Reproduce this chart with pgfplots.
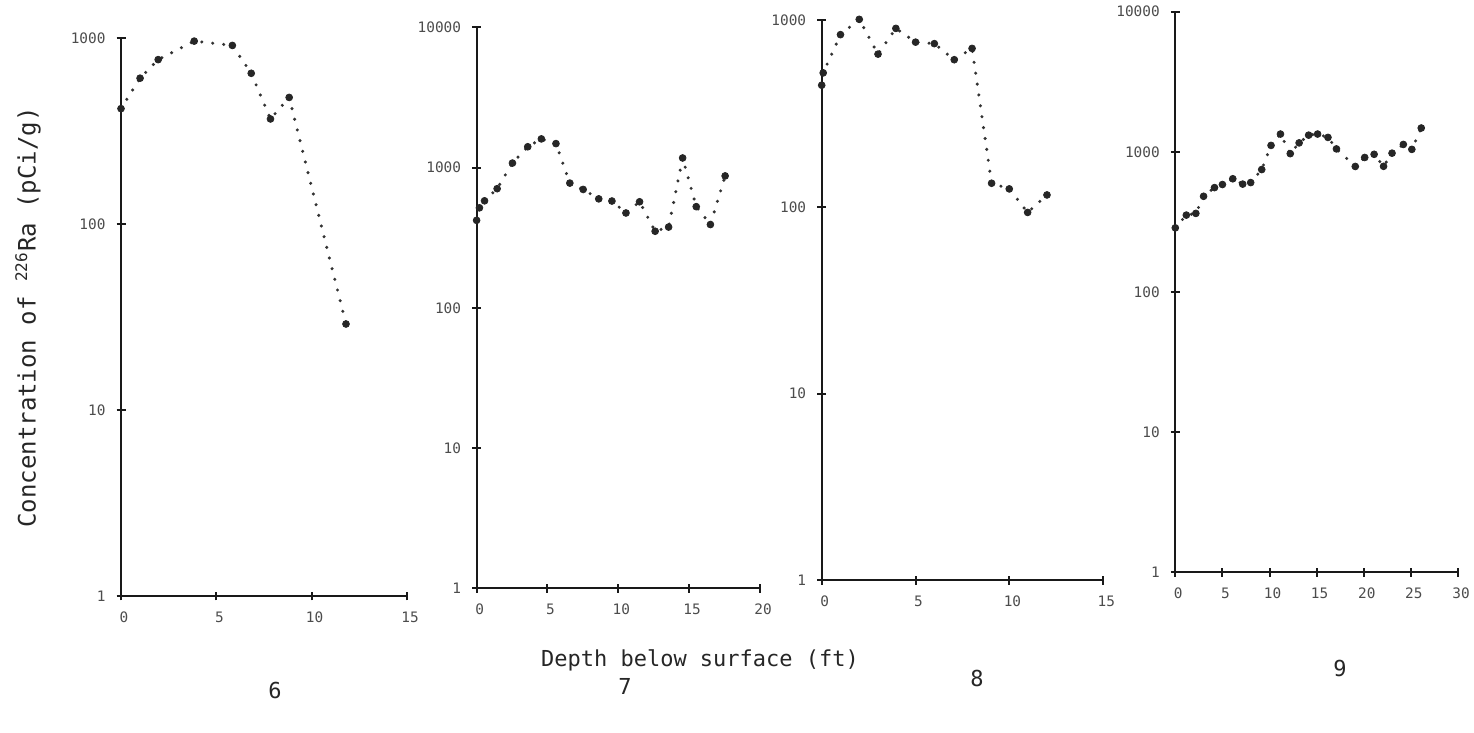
\documentclass[border=0pt]{standalone}
\usepackage{fontspec}
\setmainfont{DejaVu Sans Mono}
\usepackage{pgfplots}
\pgfplotsset{compat=1.18}

\pgfplotsset{
  myraxis/.style={
    scale only axis,
    anchor=south west,
    axis lines=left,
    axis line style={-, line width=1pt, black!90},
    ymin=1,
    tick align=center,
    major tick length=4.5pt,
    tick style={line width=1pt, black!90},
    tick label style={font=\fontsize{7.2}{8}\selectfont, text=black!70},
    yticklabel style={xshift=-2pt},
    xticklabel style={yshift=-2pt, xshift=1.5pt},
    clip=false,
    enlargelimits=false,
  },
  myrline/.style={black!80, line width=1.7pt, line cap=round,
    dash pattern=on 0pt off 5.5pt,
    mark=*, mark size=1.7pt,
    mark options={solid, line width=0.4pt, fill=black!85, draw=black!85}},
}

\begin{document}
\begin{tikzpicture}
\path[use as bounding box] (0,0) rectangle (737pt,366.5pt);

% Panel 6
\begin{axis}[ymode=log, yminorticks=false, myraxis, at={(60.5pt,68.5pt)}, width=143pt, height=279pt,
  xmin=0, xmax=15, xtick={0,5,10,15}, xticklabels={0,5,10,15},
  ymax=1000, ytick={1,10,100,1000}, yticklabels={1,10,100,1000}]
\addplot[myrline] coordinates {
 (0,417) (1.0,608) (1.95,765) (3.84,962) (5.84,912) (6.83,646)
 (7.84,367) (8.82,479) (11.8,29)
};
\end{axis}

% Panel 7
\begin{axis}[ymode=log, yminorticks=false, myraxis, at={(238.3pt,72.3pt)}, width=141.7pt, height=280.5pt,
  xmin=0, xmax=20, xtick={0,5,10,15,20}, xticklabels={0,5,10,15,20},
  ymax=10000, ytick={1,10,100,1000,10000}, yticklabels={1,10,100,1000,10000}]
\addplot[myrline] coordinates {
 (0,421) (0.2,517) (0.56,580) (1.45,708) (2.53,1078) (3.61,1409)
 (4.57,1603) (5.6,1484) (6.58,776) (7.52,699) (8.62,599) (9.55,578)
 (10.54,475) (11.5,571) (12.6,352) (13.55,377) (14.54,1172) (15.5,527)
 (16.5,393) (17.54,873)
};
\end{axis}

% Panel 8
\begin{axis}[ymode=log, yminorticks=false, myraxis, at={(410.85pt,76.35pt)}, width=140.8pt, height=280pt,
  xmin=0, xmax=15, xtick={0,5,10,15}, xticklabels={0,5,10,15},
  ymax=1000, ytick={1,10,100,1000}, yticklabels={1,10,100,1000}]
\addplot[myrline] coordinates {
 (0,449) (0.08,523) (1.0,838) (2.0,1012) (3.0,659) (3.95,905)
 (5.0,764) (6.0,750) (7.06,615) (8.01,707) (9.05,134) (9.99,125)
 (10.97,93.5) (12.0,116)
};
\end{axis}

% Panel 9
\begin{axis}[ymode=log, yminorticks=false, myraxis, at={(587.65pt,80.3pt)}, width=141.35pt, height=280.35pt,
  xmin=0, xmax=30, xtick={0,5,10,15,20,25,30}, xticklabels={0,5,10,15,20,25,30},
  ymax=10000, ytick={1,10,100,1000,10000}, yticklabels={1,10,100,1000,10000}]
\addplot[myrline] coordinates {
 (0,287) (1.17,354) (2.18,364) (3.0,482) (4.16,556) (5.0,585)
 (6.1,643) (7.15,589) (8.0,604) (9.17,748) (10.16,1112) (11.16,1340)
 (12.2,971) (13.14,1159) (14.15,1316) (15.1,1340) (16.2,1268)
 (17.1,1050) (19.1,787) (20.1,912) (21.1,961) (22.1,789) (23.0,979)
 (24.2,1130) (25.1,1042) (26.1,1480)
};
\end{axis}

\node[rotate=90, font=\fontsize{12}{14}\selectfont, text=black!85] at (14pt,207.75pt)
  {Concentration of \textsuperscript{226}Ra (pCi/g)};
\node[font=\fontsize{11}{13}\selectfont, text=black!85] at (350pt,36.5pt)
  {Depth below surface (ft)};
\node[font=\fontsize{11}{13}\selectfont, text=black!85] at (137.5pt,21.5pt) {6};
\node[font=\fontsize{11}{13}\selectfont, text=black!85] at (312.5pt,23.5pt) {7};
\node[font=\fontsize{11}{13}\selectfont, text=black!85] at (488.5pt,27.5pt) {8};
\node[font=\fontsize{11}{13}\selectfont, text=black!85] at (670pt,32.5pt) {9};
\end{tikzpicture}
\end{document}
